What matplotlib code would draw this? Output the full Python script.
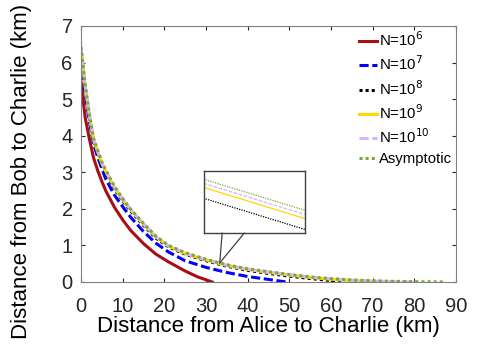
import numpy as np
import matplotlib.pyplot as plt
from matplotlib.patches import ConnectionPatch

plt.rcParams['font.family'] = ['Liberation Sans', 'DejaVu Sans']

# distance Alice-Charlie (km) grid and distance Bob-Charlie (km) for each N
x_grid = [0, 1, 2, 3, 4, 5, 6, 8, 10, 12, 15, 18, 21, 25, 30, 35, 40, 45, 50, 55,
          60, 65, 70, 75, 80, 85, 87]

x_n6 = [0, 1, 2, 3, 4, 5, 6, 8, 10, 12, 15, 18, 21, 25, 28, 30, 31.5]
y_n6 = [5.47, 4.5, 3.92, 3.4, 3.05, 2.75, 2.48, 2.05, 1.7, 1.4, 1.05, 0.76, 0.55,
        0.3, 0.14, 0.06, 0]

x_n7 = [0, 1, 2, 3, 4, 5, 6, 8, 10, 12, 15, 18, 21, 25, 30, 35, 40, 45, 49.3]
y_n7 = [6.12, 5.15, 4.4, 3.78, 3.42, 3.1, 2.8, 2.38, 2.06, 1.76, 1.38, 1.06, 0.82,
        0.58, 0.4, 0.26, 0.15, 0.07, 0]

x_n8 = x_grid[:21] + [63]
y_n8 = [6.32, 5.3, 4.5, 3.85, 3.52, 3.2, 2.97, 2.56, 2.22, 1.93, 1.55, 1.2, 0.96,
        0.76, 0.583, 0.433, 0.32, 0.235, 0.16, 0.095, 0.04, 0]

x_n9 = x_grid[:23] + [72]
y_n9 = [6.38, 5.36, 4.56, 3.89, 3.56, 3.24, 3.01, 2.59, 2.25, 1.96, 1.58, 1.23, 0.98,
        0.78, 0.604, 0.454, 0.344, 0.262, 0.19, 0.125, 0.075, 0.04, 0.013, 0]

x_n10 = x_grid[:25]
y_n10 = [6.41, 5.38, 4.58, 3.91, 3.58, 3.26, 3.03, 2.6, 2.27, 1.97, 1.59, 1.24, 0.99,
         0.79, 0.612, 0.462, 0.352, 0.27, 0.198, 0.135, 0.085, 0.05, 0.026, 0.01, 0]

x_asym = x_grid
y_asym = [6.43, 5.4, 4.6, 3.93, 3.6, 3.28, 3.05, 2.62, 2.28, 1.98, 1.6, 1.25, 1.0,
          0.8, 0.62, 0.47, 0.36, 0.28, 0.205, 0.14, 0.09, 0.055, 0.032, 0.018, 0.008,
          0.003, 0]

labels = ['N=10$^{6}$', 'N=10$^{7}$', 'N=10$^{8}$', 'N=10$^{9}$', 'N=10$^{10}$', 'Asymptotic']

series = [
    (x_n6, y_n6, '#a50f15', None),
    (x_n7, y_n7, '#0000ff', (0, (3, 1.2))),
    (x_n8, y_n8, 'black', (0, (1, 1))),
    (x_n9, y_n9, '#ffd700', None),
    (x_n10, y_n10, '#d9b3ff', (0, (3, 1.2))),
    (x_asym, y_asym, '#77ac30', (0, (1, 1))),
]

fig = plt.figure(figsize=(4.85, 3.46), dpi=100)
ax = fig.add_axes([0.167, 0.185, 0.773, 0.740])

for (xs, ys, col, dash), lab in zip(series, labels):
    line, = ax.plot(xs, ys, color=col, lw=2.2, label=lab)
    if dash is not None:
        line.set_linestyle(dash)

ax.set_xlim(0, 90)
ax.set_ylim(0, 7)
ax.set_xticks(range(0, 91, 10))
ax.set_yticks(range(0, 8))
ax.tick_params(direction='in', length=3, labelsize=14.5, colors='#262626',
               top=True, right=True)
ax.tick_params(axis='x', pad=11)
ax.tick_params(axis='y', pad=6)
for s in ax.spines.values():
    s.set_color('#808080')
    s.set_linewidth(0.8)
ax.set_xlabel('Distance from Alice to Charlie (km)', fontsize=16, labelpad=0)
ax.set_ylabel('Distance from Bob to Charlie (km)', fontsize=16)
ax.yaxis.set_label_coords(-0.131, 0.43)

leg = ax.legend(loc='upper right', frameon=False, fontsize=10.7, handlelength=1.25,
                handletextpad=0.15, labelspacing=0.38, borderaxespad=0,
                bbox_to_anchor=(1.007, 1.006))

# zoomed inset
ins = fig.add_axes([0.4206, 0.3266, 0.208, 0.179])
for (xs, ys, col, dash), lab in zip(series, labels):
    line, = ins.plot(xs, ys, color=col, lw=0.9)
    if dash is not None:
        line.set_linestyle(dash)
ins.set_xlim(32.5, 34.5)
ins.set_ylim(0.441, 0.561)
ins.set_xticks([])
ins.set_yticks([])
for s in ins.spines.values():
    s.set_color('#404040')
    s.set_linewidth(1.0)

for xa in (0.18, 0.40):
    con = ConnectionPatch(xyA=(33.3, 0.52), coordsA=ax.transData,
                          xyB=(xa, 0), coordsB=ins.transAxes,
                          color='#404040', lw=0.9)
    fig.add_artist(con)

fig.savefig('out.png', dpi=100)
